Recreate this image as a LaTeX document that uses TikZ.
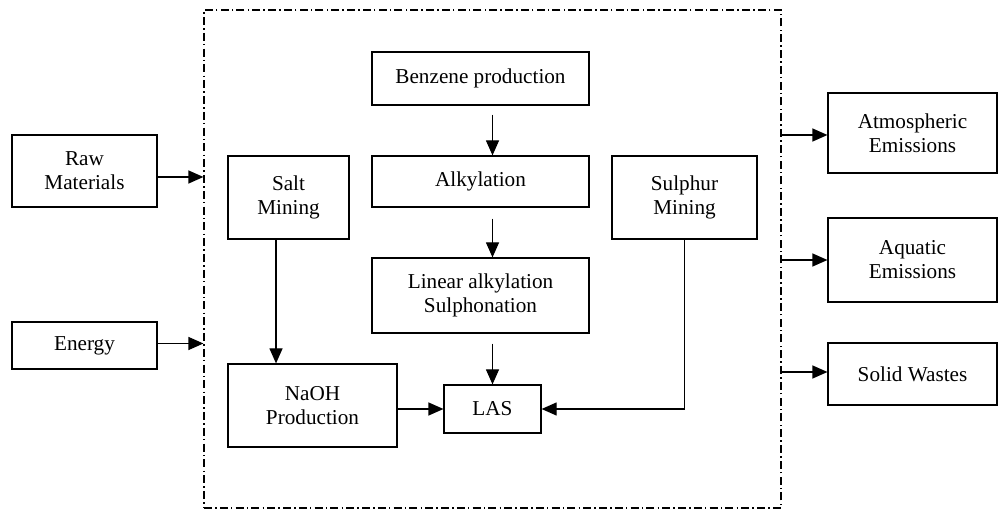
\documentclass[tikz,border=0pt]{standalone}
\usepackage{fontspec}
\setmainfont{Liberation Serif}
\usetikzlibrary{arrows.meta,calc,positioning}

\begin{document}
\begin{tikzpicture}[x=0.5pt,y=-0.5pt,font=\fontsize{10.6}{12}\selectfont,
  box/.style={draw,line width=0.6pt,align=center,inner sep=2pt},
  flow/.style={-{Triangle[length=7.5pt,width=6.5pt]},line width=0.6pt},
  sysline/.style={draw,line width=0.6pt,dash pattern=on 4pt off 1.6pt on 0.7pt off 1.6pt}]
\useasboundingbox (0,0) rectangle (999,512);
% system boundary
\node[sysline,minimum width=288.5pt,minimum height=249pt,inner sep=0pt] (sys) at (492.5,259) {};
% inputs
\node[box,minimum width=72.5pt,minimum height=36pt] (raw) at (84.5,171) {Raw\\Materials};
\node[box,minimum width=72.5pt,minimum height=23.5pt] (energy) at (84.5,345.5) {Energy};
% processes
\node[box,minimum width=60.5pt,minimum height=41.5pt] (salt) at (288.5,197.5) {Salt\\Mining};
\node[box,minimum width=108.5pt,minimum height=26.5pt] (benz) at (480.5,78.5) {Benzene production};
\node[box,minimum width=108.5pt,minimum height=25.5pt] (alky) at (480.5,181.5) {Alkylation};
\node[box,minimum width=108.5pt,minimum height=37.5pt] (lin) at (480.5,295.5) {Linear alkylation\\Sulphonation};
\node[box,minimum width=72.5pt,minimum height=41.5pt] (sulph) at (684.5,197.5) {Sulphur\\Mining};
\node[box,minimum width=84.5pt,minimum height=41.5pt] (naoh) at (312.5,405.5) {NaOH\\Production};
\node[box,minimum width=48.5pt,minimum height=24pt] (las) at (492.5,409) {LAS};
% outputs
\node[box,minimum width=84.5pt,minimum height=40pt] (atm) at (912.5,133) {Atmospheric\\Emissions};
\node[box,minimum width=84.5pt,minimum height=42pt] (aqu) at (912.5,260) {Aquatic\\Emissions};
\node[box,minimum width=84.5pt,minimum height=31pt] (sol) at (912.5,374) {Solid Wastes};
% flows across the boundary
\draw[flow] ([yshift=-3pt]raw.east) -- ([yshift=-3pt]raw.east -| sys.west);
\draw[flow] ([yshift=1pt]energy.east) -- ([yshift=1pt]energy.east -| sys.west);
\draw[flow] ([yshift=-1pt]sys.east |- atm.west) -- ([yshift=-1pt]atm.west);
\draw[flow] (sys.east |- aqu.west) -- (aqu.west);
\draw[flow] ([yshift=1pt]sys.east |- sol.west) -- ([yshift=1pt]sol.west);
% process chain
\draw[flow,shorten <=4.5pt] (las.north |- benz.south) -- (las.north |- alky.north);
\draw[flow,shorten <=5.5pt] (las.north |- alky.south) -- (las.north |- lin.north);
\draw[flow,shorten <=5pt] (las.north |- lin.south) -- (las.north);
\draw[flow] ([xshift=-6.25pt]salt.south) -- ([xshift=-6.25pt]salt.south |- naoh.north);
\draw[flow] (naoh.east |- las.west) -- (las.west);
\draw[flow] (sulph.south) |- (las.east);
\end{tikzpicture}
\end{document}
